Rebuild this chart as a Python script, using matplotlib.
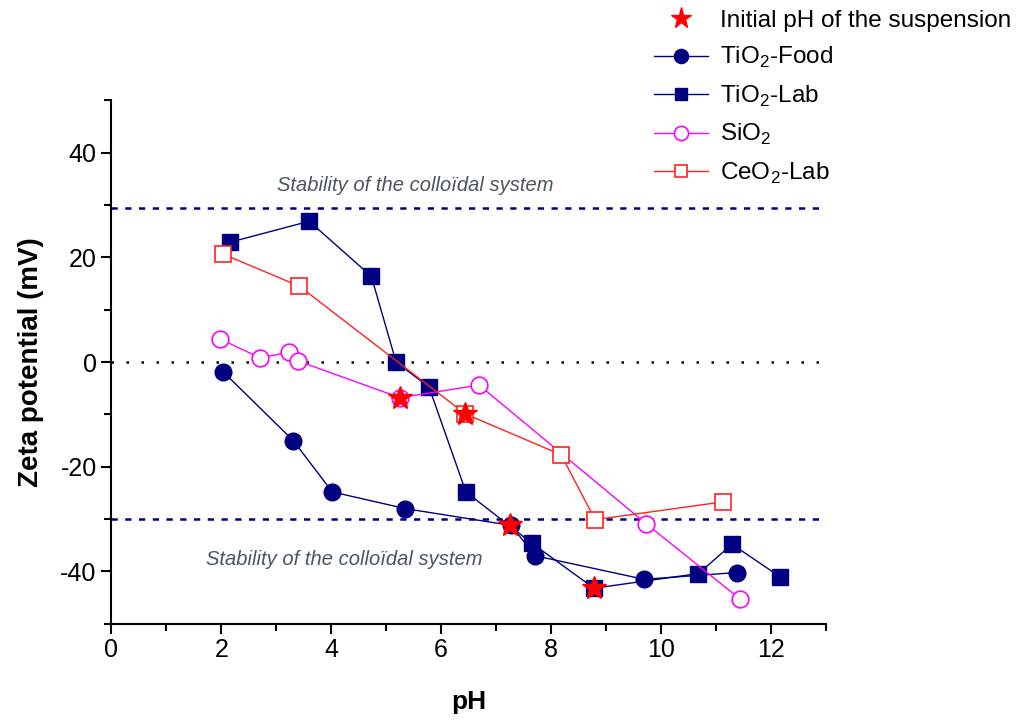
import matplotlib.pyplot as plt
from matplotlib.ticker import MultipleLocator

plt.rcParams['font.family'] = ['Liberation Sans', 'DejaVu Sans']
plt.rcParams['mathtext.fontset'] = 'custom'
plt.rcParams['mathtext.rm'] = 'Liberation Sans'
plt.rcParams['axes.unicode_minus'] = False

# Data
food_ph = [2.04, 3.31, 4.02, 5.35, 7.27, 7.71, 9.69, 11.38]
food_zeta = [-1.9, -15.0, -24.8, -28.0, -31.2, -37.0, -41.5, -40.2]

lab_ph = [2.16, 3.60, 4.73, 5.18, 5.78, 6.45, 7.65, 8.78, 10.68, 11.29, 12.16]
lab_zeta = [22.9, 26.9, 16.4, 0.0, -4.8, -24.8, -34.6, -43.2, -40.4, -34.8, -41.0]

sio2_ph = [1.98, 2.71, 3.24, 3.40, 5.25, 6.69, 9.73, 11.44]
sio2_zeta = [4.4, 0.8, 1.9, 0.2, -6.8, -4.4, -30.9, -45.3]

ceo2_ph = [2.04, 3.42, 6.44, 8.18, 8.80, 11.13]
ceo2_zeta = [20.6, 14.5, -9.9, -17.7, -30.1, -26.7]

init_ph = [5.25, 6.44, 7.26, 8.78]
init_zeta = [-6.8, -9.9, -31.2, -43.1]

stab_upper = 29.5
stab_lower = -30

fig = plt.figure(figsize=(10.3, 7.22), dpi=100)
ax = fig.add_axes([0.108, 0.136, 0.694, 0.725])

navy = '#000080'
ax.axhline(stab_upper, color=navy, ls=(0, (2.5, 3)), lw=1.8, zorder=1)
ax.axhline(stab_lower, color=navy, ls=(0, (2.5, 3)), lw=1.8, zorder=1)
ax.axhline(0, color='black', ls=(0, (1, 5)), lw=1.8, zorder=1)

ax.plot(food_ph, food_zeta, '-o', color=navy, lw=1, ms=12, mfc=navy, mec=navy,
        label='TiO$_2$-Food', zorder=3)
ax.plot(lab_ph, lab_zeta, '-s', color=navy, lw=1, ms=11, mfc=navy, mec=navy,
        label='TiO$_2$-Lab', zorder=3)
ax.plot(sio2_ph, sio2_zeta, '-o', color='#ff00ff', lw=1, ms=12, mfc='white',
        mec='#ff00ff', mew=1.2, label='SiO$_2$', zorder=3)
ax.plot(ceo2_ph, ceo2_zeta, '-s', color='#ff2020', lw=1, ms=11, mfc='white',
        mec='#ff2020', mew=1.2, label='CeO$_2$-Lab', zorder=3)
ax.plot(init_ph, init_zeta, '*', color='#ff0000', ms=18, mec='#ff0000',
        ls='none', label='Initial pH of the suspension', zorder=4)

ax.text(5.52, 33.7, 'Stability of the colloïdal system', style='italic',
        color='#4a5562', fontsize=14.5, ha='center', va='center')
ax.text(4.24, -37.7, 'Stability of the colloïdal system', style='italic',
        color='#4a5562', fontsize=14.5, ha='center', va='center')

ax.set_xlim(0, 13)
ax.set_ylim(-50, 50)
ax.xaxis.set_major_locator(MultipleLocator(2))
ax.xaxis.set_minor_locator(MultipleLocator(1))
ax.yaxis.set_major_locator(MultipleLocator(20))
ax.yaxis.set_minor_locator(MultipleLocator(10))
ax.tick_params(which='both', direction='out', width=1.5, labelsize=18)
ax.tick_params(which='major', length=7)
ax.tick_params(which='minor', length=5)
ax.spines['top'].set_visible(False)
ax.spines['right'].set_visible(False)
ax.spines['left'].set_linewidth(1.5)
ax.spines['bottom'].set_linewidth(1.5)

ax.set_xlabel('pH', fontsize=19, fontweight='bold', labelpad=20)
ax.set_ylabel('Zeta potential (mV)', fontsize=20, fontweight='bold', labelpad=12)

handles, labels = ax.get_legend_handles_labels()
order = [4, 0, 1, 2, 3]
ax.legend([handles[i] for i in order], [labels[i] for i in order],
          loc='upper left', bbox_to_anchor=(0.729, 1.215), frameon=False,
          fontsize=17.5, handlelength=2.2, labelspacing=0.55, handletextpad=0.5,
          markerscale=0.85)

fig.savefig('out.png', dpi=100)
